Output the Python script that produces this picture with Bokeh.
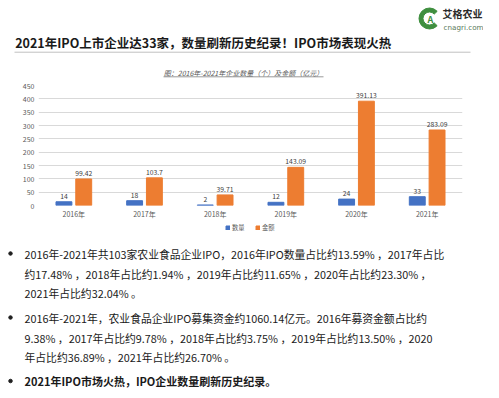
from bokeh.plotting import figure
from bokeh.models import (Range1d, FactorRange, ColumnDataSource, FixedTicker, Legend, LegendItem)
from bokeh.transform import dodge
from bokeh.core.properties import value
from bokeh.embed import file_html
from bokeh.resources import INLINE

# ---------------- data ----------------
years = ["2016年", "2017年", "2018年", "2019年", "2020年", "2021年"]
counts = [14, 18, 2, 12, 24, 33]
amounts = [99.42, 103.7, 39.71, 143.09, 391.13, 283.09]
count_labels = ["14", "18", "2", "12", "24", "33"]
amount_labels = ["99.42", "103.7", "39.71", "143.09", "391.13", "283.09"]
y_ticks = [0, 50, 100, 150, 200, 250, 300, 350, 400, 450]
series_names = ["数量", "金额"]

page_title = "2021年IPO上市企业达33家，数量刷新历史纪录！IPO市场表现火热"
chart_title = "图：2016年-2021年企业数量（个）及金额（亿元）"
logo_cn = "艾格农业"
logo_en = "cnagri.com"
bullet_lines = [
    "2016年-2021年共103家农业食品企业IPO，2016年IPO数量占比约13.59%    ，2017年占比",
    "约17.48%    ，2018年占比约1.94% ，2019年占比约11.65%    ，2020年占比约23.30%    ，",
    "2021年占比约32.04%  。",
    "2016年-2021年，农业食品企业IPO募集资金约1060.14亿元。2016年募资金额占比约",
    "9.38%   ，2017年占比约9.78%   ，2018年占比约3.75% ，2019年占比约13.50%   ，2020",
    "年占比约36.89%   ，2021年占比约26.70%  。",
    "2021年IPO市场火热，IPO企业数量刷新历史纪录。",
]

FONT = "Noto Sans CJK SC"
W = 483
BLUE = "#4472C4"
ORANGE = "#ED7D31"
X0 = 8  # page x of figure left


def blank(h, y0):
    # coordinates equal page pixels: x = page x, y = page y
    f = figure(width=W, height=h, x_range=Range1d(X0, X0 + W), y_range=Range1d(y0 + h, y0),
               output_backend="svg", toolbar_location=None,
               x_axis_type=None, y_axis_type=None,
               min_border_left=0, min_border_right=0, min_border_top=0, min_border_bottom=0)
    f.grid.visible = False
    f.outline_line_color = None
    return f


# ---------------- header (page y 0-80) ----------------
hdr = blank(80, 0)
hdr.text(x=[22.7], y=[41.7], text=[page_title], text_font=value(FONT),
         text_font_size="12.5px", text_font_style="bold", text_color="#1a1a1a",
         text_baseline="middle", text_align="left")
hdr.segment(x0=[22], y0=[51.7], x1=[478], y1=[51.7], line_color="#c0c0c0", line_width=1)
# logo
hdr.annular_wedge(x=[437], y=[18], inner_radius=6.5, outer_radius=10.5,
                  start_angle=0.75, end_angle=5.53, color="#3f8f3f")
hdr.text(x=[438], y=[19], text=["A"], text_font=value(FONT), text_font_size="9px",
         text_font_style="bold", text_color="#3f8f3f", text_align="center", text_baseline="middle")
hdr.text(x=[450], y=[13], text=[logo_cn], text_font=value(FONT), text_font_size="10px",
         text_font_style="bold", text_color="#2a2a2a", text_align="left", text_baseline="middle")
hdr.text(x=[451], y=[27], text=[logo_en], text_font=value("DejaVu Sans"), text_font_size="7.2px",
         text_color="#5a7a5a", text_align="left", text_baseline="middle")
# chart title
hdr.text(x=[251], y=[72.3], text=[chart_title], text_font=value(FONT), text_font_size="7px",
         text_font_style="italic", text_color="#595959", text_align="center", text_baseline="middle")
hdr.segment(x0=[171], y0=[76.3], x1=[331], y1=[76.3], line_color="#7f7f7f", line_width=0.8)

# ---------------- chart (page y 80-222) ----------------
src = ColumnDataSource(dict(years=years, counts=counts, amounts=amounts,
                            count_labels=count_labels, amount_labels=amount_labels))
p = figure(width=W, height=142, x_range=FactorRange(*years, range_padding=0),
           y_range=Range1d(0, 450), output_backend="svg", toolbar_location=None,
           min_border_left=38, min_border_right=21, min_border_top=5, min_border_bottom=17)
p.outline_line_color = None
p.xgrid.visible = False
p.ygrid.grid_line_color = "#d9d9d9"
p.ygrid.grid_line_width = 1
p.yaxis.ticker = FixedTicker(ticks=y_ticks)
for ax in (p.xaxis, p.yaxis):
    ax.axis_line_color = None
    ax.major_tick_line_color = None
    ax.minor_tick_line_color = None
    ax.major_tick_out = 0
    ax.major_tick_in = 0
    ax.minor_tick_out = 0
    ax.major_label_text_font = FONT
    ax.major_label_text_font_size = "7px"
    ax.major_label_text_color = "#595959"
p.xaxis.major_label_standoff = 3
p.yaxis.major_label_standoff = 4

p.vbar(x=dodge("years", -0.14, range=p.x_range), top="counts", width=0.225,
       source=src, color=BLUE)
p.vbar(x=dodge("years", 0.14, range=p.x_range), top="amounts", width=0.225,
       source=src, color=ORANGE)
p.text(x=dodge("years", -0.14, range=p.x_range), y="counts", text="count_labels", source=src,
       text_font=value(FONT), text_font_size="6.8px", text_color="#404040",
       text_align="center", text_baseline="bottom", y_offset=-3)
p.text(x=dodge("years", 0.14, range=p.x_range), y="amounts", text="amount_labels", source=src,
       text_font=value(FONT), text_font_size="6.8px", text_color="#404040",
       text_align="center", text_baseline="bottom", y_offset=-3)

# ---------------- body (page y 222-390) ----------------
body = blank(168, 222)
# legend of the chart (sits just under the x labels); swatch renderers lie off-canvas
lr1 = body.rect(x=[-100], y=[-100], width=5, height=5, color=BLUE)
lr2 = body.rect(x=[-100], y=[-100], width=5, height=5, color=ORANGE)
legend = Legend(items=[LegendItem(label=series_names[0], renderers=[lr1], index=0),
                       LegendItem(label=series_names[1], renderers=[lr2], index=0)],
                location=(233 - X0, 168 - 9.5), orientation="horizontal",
                padding=0, margin=0, spacing=3, glyph_width=5, glyph_height=5,
                label_standoff=2, label_height=8,
                label_text_font=FONT, label_text_font_size="6.3px", label_text_color="#595959",
                border_line_color=None, background_fill_alpha=0)
body.add_layout(legend, "center")

line_y = [253, 273, 292.5, 317, 337, 356.5, 380.5]
for i, (txt, yy) in enumerate(zip(bullet_lines, line_y)):
    body.text(x=[32], y=[yy], text=[txt], text_font=value(FONT),
              text_font_size="11px" if i == 6 else "10.8px",
              text_color="#1a1a1a", text_baseline="middle", text_align="left",
              text_font_style="bold" if i == 6 else "normal")
body.scatter(x=[18, 18, 18], y=[line_y[0], line_y[3], line_y[6]], size=3.5,
             color="#1f1f1f", marker="circle")

open("out.html", "w").write(file_html([hdr, p, body], INLINE))
